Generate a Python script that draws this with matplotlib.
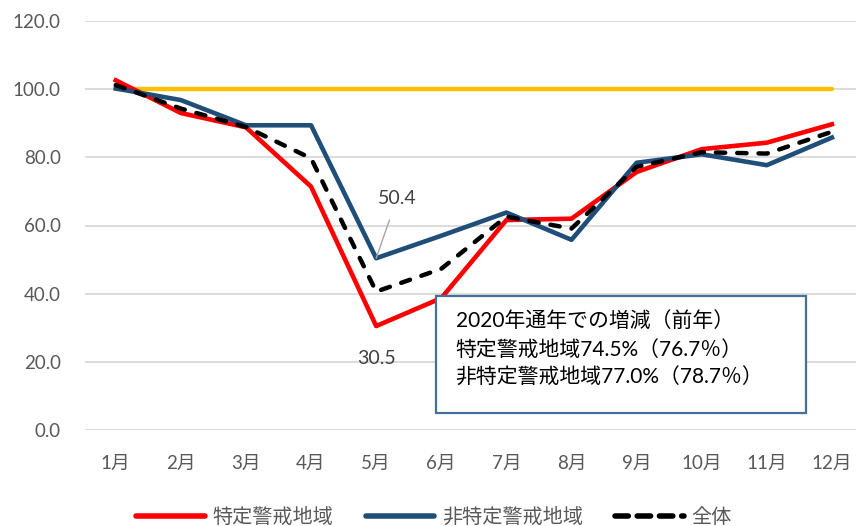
import matplotlib
matplotlib.use('Agg')
import matplotlib.pyplot as plt
from matplotlib.patches import Rectangle
from matplotlib.lines import Line2D

plt.rcParams['font.family'] = ['Lato', 'Noto Sans CJK JP', 'DejaVu Sans']

months = ['1月', '2月', '3月', '4月', '5月', '6月', '7月', '8月', '9月', '10月', '11月', '12月']
tokutei = [102.6, 93.0, 88.8, 71.4, 30.5, 38.7, 61.6, 62.0, 75.7, 82.4, 84.3, 89.7]
hi_tokutei = [100.2, 96.8, 89.4, 89.4, 50.4, 57.0, 63.8, 55.8, 78.4, 80.9, 77.7, 85.8]
zentai = [101.2, 94.3, 88.9, 79.7, 40.6, 47.3, 62.6, 59.1, 77.2, 81.5, 81.1, 87.5]
baseline = [100.0] * len(months)

box_lines = ['2020年通年での増減（前年）',
             '特定警戒地域74.5%（76.7％）',
             '非特定警戒地域77.0%（78.7％）']

gray = '#595959'
x = list(range(len(months)))

fig = plt.figure(figsize=(8.56, 5.26), dpi=100)
ax = fig.add_axes([84.5 / 856, 96 / 526, 771.5 / 856, 409 / 526])

ax.plot(x, baseline, color='#FFC000', lw=3.2, solid_capstyle='round', zorder=2)
ax.plot(x, tokutei, color='#FF0000', lw=3.3, zorder=3)
ax.plot(x, hi_tokutei, color='#1F4E79', lw=3.3, zorder=3)
ax.plot(x, zentai, color='black', lw=3.2, dashes=(2.1, 2.7), dash_capstyle='round', zorder=4)

ax.set_xlim(-0.48, 11.37)
ax.set_ylim(0, 120)
ax.set_yticks([0, 20, 40, 60, 80, 100, 120])
ax.set_yticklabels(['%.1f' % v for v in [0, 20, 40, 60, 80, 100, 120]])
ax.set_xticks(x)
ax.set_xticklabels(months)
ax.tick_params(axis='both', length=0, labelsize=13.5, labelcolor=gray)
ax.tick_params(axis='y', pad=17)
ax.tick_params(axis='x', pad=18)
ax.grid(axis='y', color='#D9D9D9', lw=1.3)
ax.set_axisbelow(True)
for s in ax.spines.values():
    s.set_visible(False)

# data labels
ax.annotate('50.4', xy=(4, hi_tokutei[4]), xytext=(4.32, 68.0), ha='center', va='center',
            fontsize=14, color='#404040',
            arrowprops=dict(arrowstyle='-', color='#A6A6A6', lw=1, shrinkA=8, shrinkB=0))
ax.text(4.0, 21.1, '30.5', ha='center', va='center', fontsize=14, color='#404040')

# summary box
ax.add_patch(Rectangle((4.92, 5.0), 5.68, 34.3, facecolor='white', edgecolor='#41719C',
                       lw=1.6, zorder=6))
for i, line in enumerate(box_lines):
    ax.text(5.22, 32.0 - i * 8.4, line, ha='left', va='center', fontsize=15,
            color='black', zorder=7)

handles = [Line2D([], [], color='#FF0000', lw=4, solid_capstyle='round'),
           Line2D([], [], color='#1F4E79', lw=4, solid_capstyle='round'),
           Line2D([], [], color='black', lw=4, dashes=(2.4, 1.6), dash_capstyle='round')]
fig.legend(handles, ['特定警戒地域', '非特定警戒地域', '全体'], loc='center',
           bbox_to_anchor=(434 / 856, 1 - 516 / 526), ncol=3, frameon=False,
           fontsize=14.5, labelcolor=gray, handlelength=3.4, handletextpad=0.4,
           columnspacing=1.6)

fig.savefig('out.png', dpi=100)
